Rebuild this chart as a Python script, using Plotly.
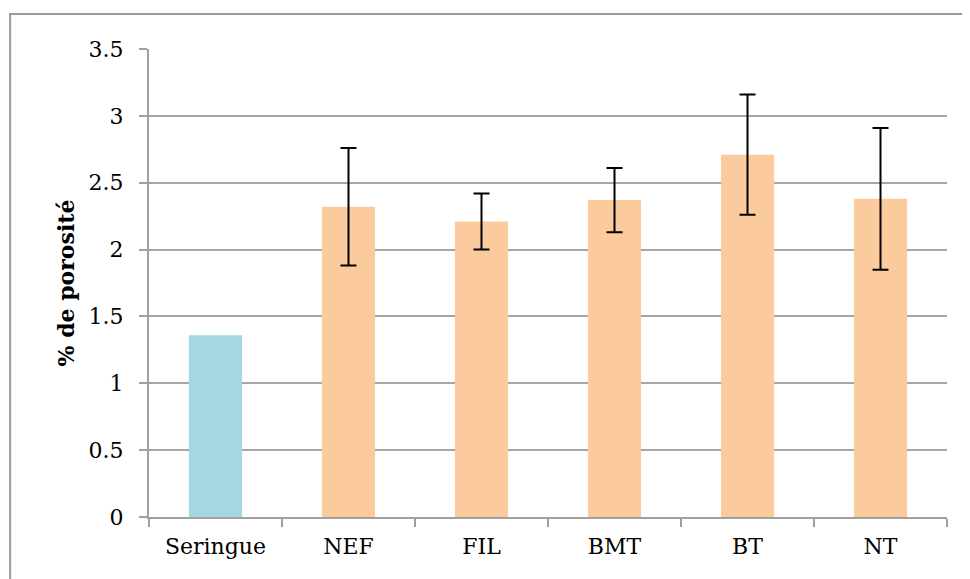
import plotly.graph_objects as go

categories = ['Seringue', 'NEF', 'FIL', 'BMT', 'BT', 'NT']
porosity = [1.36, 2.32, 2.21, 2.37, 2.71, 2.38]
error = [0, 0.44, 0.21, 0.24, 0.45, 0.53]
color_ref = '#a5d6e3'
color_test = '#fbcb9e'

fig = go.Figure()

# reference (no error bar)
fig.add_trace(go.Bar(
    x=categories[:1],
    y=porosity[:1],
    marker=dict(color=color_ref, line=dict(width=0)),
    width=0.4,
))

# samples with error bars
fig.add_trace(go.Bar(
    x=categories[1:],
    y=porosity[1:],
    marker=dict(color=color_test, line=dict(width=0)),
    width=0.4,
    error_y=dict(type='data', array=error[1:], color='black', thickness=2, width=8, visible=True),
))

fig.update_layout(
    width=970, height=579,
    barmode='overlay',
    margin=dict(l=141, r=31, t=41, b=70, autoexpand=False),
    paper_bgcolor='white', plot_bgcolor='white',
    font=dict(family='DejaVu Serif', size=22, color='black'),
    showlegend=False,
    shapes=[dict(type='rect', xref='paper', yref='paper',
                 x0=-0.174, x1=1.0225, y0=-0.2, y1=1.075,
                 line=dict(color='#9a9a9a', width=2))],
)

fig.update_xaxes(
    categoryorder='array', categoryarray=categories,
    showline=True, linecolor='#a0a0a0', linewidth=2,
    ticks='outside', ticklen=8, tickcolor='#a0a0a0', tickwidth=2,
    tickson='boundaries', showgrid=False,
    ticklabelstandoff=9,
    tickfont=dict(size=22),
)
fig.update_yaxes(
    range=[0, 3.5], dtick=0.5,
    showline=True, linecolor='#a0a0a0', linewidth=2,
    ticks='outside', ticklen=8, tickcolor='#a0a0a0', tickwidth=2,
    showgrid=True, gridcolor='#a6a6a6', gridwidth=2,
    zeroline=False,
    ticklabelstandoff=11,
    title=dict(text='<b>% de porosité</b>', font=dict(size=22), standoff=8),
    tickfont=dict(size=22),
)

fig.write_html('out.html')
